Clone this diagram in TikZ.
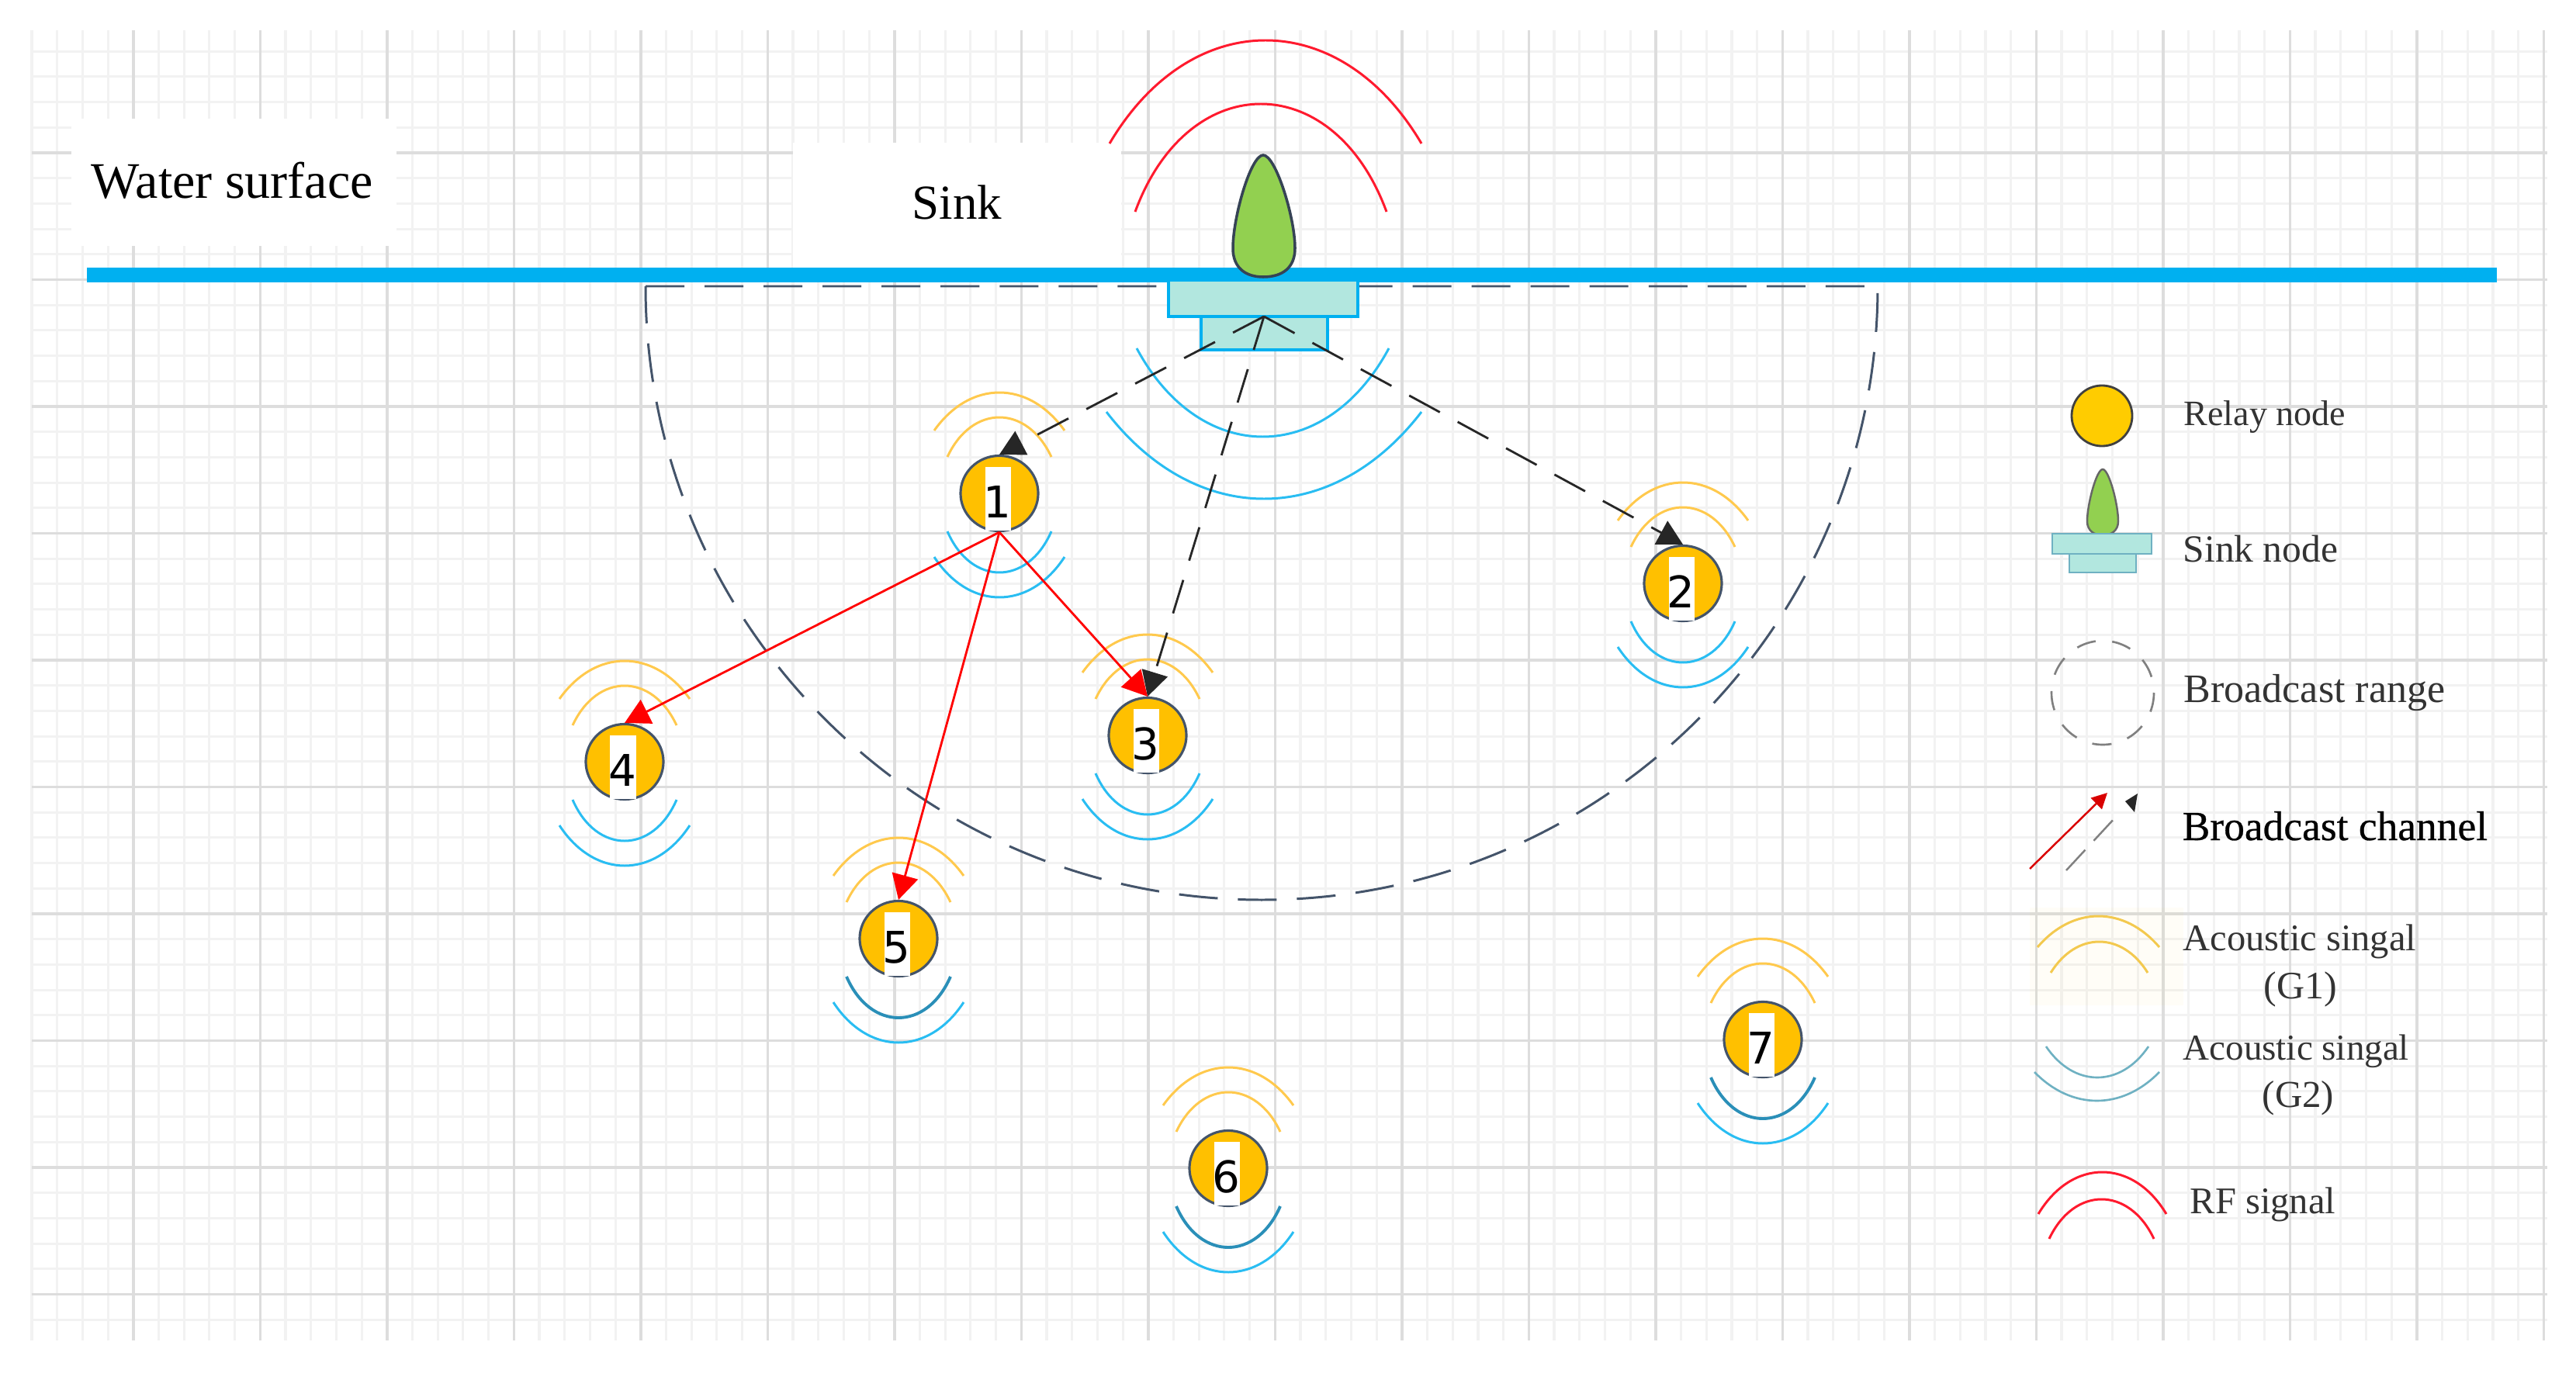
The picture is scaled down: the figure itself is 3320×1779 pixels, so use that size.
\documentclass[tikz,border=0pt]{standalone}
\usepackage{fontspec}
\setmainfont{Liberation Serif}
\newfontfamily\numfont{DejaVu Sans}
\usetikzlibrary{arrows.meta,shapes.geometric}
\definecolor{gmin}{HTML}{F2F2F2}
\definecolor{gmaj}{HTML}{DDDDDD}
\definecolor{water}{HTML}{00B0F0}
\definecolor{sinkfill}{HTML}{B2E7DF}
\definecolor{dropfill}{HTML}{92D050}
\definecolor{navy}{HTML}{44546A}
\definecolor{relay}{HTML}{FFC000}
\definecolor{lrelayc}{HTML}{FFCC00}
\definecolor{wy}{HTML}{FFC94D}
\definecolor{wb}{HTML}{29BDF2}
\definecolor{wd}{HTML}{2A8FB8}
\definecolor{rf}{HTML}{FF1A2E}
\definecolor{lgy}{HTML}{F3C94F}
\definecolor{lgb}{HTML}{6FB1C2}
\newcommand{\wave}[5]{% style, x1, x2, y, apex y
  \pgfmathsetmacro{\wh}{abs(#3-#2)/2}
  \pgfmathsetmacro{\ws}{abs(#5-#4)}
  \pgfmathsetmacro{\wsgn}{(#5<#4)?1:-1}
  \pgfmathsetmacro{\wR}{(\wh/\ws*\wh+\ws)/2}
  \pgfmathsetmacro{\wt}{2*atan(\ws/\wh)}
  \pgfmathsetmacro{\wk}{4/3*tan(\wt/2)*\wR}
  \pgfmathsetmacro{\wdx}{0.5*(\wk*cos(\wt)+2*\wh/3)}
  \pgfmathsetmacro{\wdy}{4/3*\ws*\wsgn}
  \draw[#1] (#2,#4) .. controls ({#2+\wdx},{#4-\wdy}) and ({#3-\wdx},{#4-\wdy}) .. (#3,#4);}
\newcommand{\relaywaves}[3]{% x, y, inner-bottom style
  \pgfmathsetmacro{\ax}{#1-84}\pgfmathsetmacro{\bx}{#1+84}
  \pgfmathsetmacro{\cx}{#1-67}\pgfmathsetmacro{\ex}{#1+67}
  \pgfmathsetmacro{\ya}{#2-81}\pgfmathsetmacro{\yb}{#2-130}
  \pgfmathsetmacro{\yc}{#2-47}\pgfmathsetmacro{\yd}{#2-98}
  \pgfmathsetmacro{\ye}{#2+49}\pgfmathsetmacro{\yf}{#2+102}
  \pgfmathsetmacro{\yg}{#2+82}\pgfmathsetmacro{\yh}{#2+134}
  \edef\tmpw{%
   \noexpand\wave{wavey}{\ax}{\bx}{\ya}{\yb}%
   \noexpand\wave{wavey}{\cx}{\ex}{\yc}{\yd}%
   \noexpand\wave{#3}{\cx}{\ex}{\ye}{\yf}%
   \noexpand\wave{waveb}{\ax}{\bx}{\yg}{\yh}}%
  \tmpw}
\newcommand{\relaynode}[3]{% digit, x, y
  \node[relaynd] (n#1) at (#2,#3) {};
  \node[stripnd] (s#1) at (#2-2,#3+7) {};
  \node[digitnd] (d#1) at (#2-3,#3+11) {#1};}
\newcommand{\txt}[5]{\pgfmathsetmacro{\fsz}{#3*0.2845}%
  \node[lbl,font=\fontsize{\fsz}{\fsz}\selectfont] (#5) at (#1,#2) {#4};}
\tikzset{
  x=0.01cm,y=-0.01cm,
  wavey/.style={draw=wy,line width=0.85pt},
  waveb/.style={draw=wb,line width=0.85pt},
  waved/.style={draw=wd,line width=1.1pt},
  rfw/.style={draw=rf,line width=0.85pt},
  relaynd/.style={draw=navy,fill=relay,ellipse,minimum width=1cm,minimum height=0.97cm,inner sep=0pt,line width=0.9pt},
  stripnd/.style={fill=white,inner sep=0pt,minimum width=0.33cm,minimum height=0.82cm},
  digitnd/.style={inner sep=0pt,font=\numfont\fontsize{16}{18}\selectfont},
  lbl/.style={anchor=base west,inner sep=0pt,text=black!80},
  sinkbox/.style={draw=water,fill=sinkfill,line width=1.1pt,inner sep=0pt},
  drop/.style={draw=navy!80!black,fill=dropfill,line width=1pt},
  rarrow/.style={draw=red,line width=0.8pt,-{Triangle[length=0.32cm,width=0.34cm]}},
  barrow/.style={draw=black!85,line width=0.8pt,dash pattern=on 0.45cm off 0.26cm,-{Triangle[length=0.32cm,width=0.34cm]}},
  rangeline/.style={draw=navy,line width=0.85pt,dash pattern=on 0.5cm off 0.26cm},
}
\begin{document}
\begin{tikzpicture}
\useasboundingbox (0,0) rectangle (3320,1779);
% grid
\foreach \k in {0,...,99}{
  \pgfmathsetmacro{\gx}{41+32.7*\k}
  \draw[gmin,line width=0.9pt] (\gx,39) -- (\gx,1728);}
\foreach \k in {1,...,51}{
  \pgfmathsetmacro{\gy}{33.5+32.7*\k}
  \draw[gmin,line width=0.9pt] (41,\gy) -- (3283,\gy);}
\foreach \k in {0,...,19}{
  \pgfmathsetmacro{\gx}{172+163.5*\k}
  \draw[gmaj,line width=0.9pt] (\gx,39) -- (\gx,1728);}
\foreach \k in {0,...,9}{
  \pgfmathsetmacro{\gy}{197+163.5*\k}
  \draw[gmaj,line width=0.9pt] (41,\gy) -- (3283,\gy);}
% white label patches
\fill[white] (92,153) rectangle (511,317);
\fill[white] (1022,184) rectangle (1445,345);
% water
\fill[water] (112,345) rectangle (3218,364);
% range
\draw[rangeline] (832,369) -- (2420,369) arc[start angle=0,end angle=180,x radius=794,y radius=791];
% RF
\wave{rfw}{1430}{1832}{185}{52}
\wave{rfw}{1463}{1787}{273}{134}
% sink
\draw[drop] (1628,200) .. controls (1612,200) and (1589,280) .. (1589,320) .. controls (1589,345) and (1605,357) .. (1628,357) .. controls (1653,357) and (1669,345) .. (1669,320) .. controls (1669,280) and (1644,200) .. (1628,200) -- cycle;
\node[sinkbox,minimum width=1.63cm,minimum height=0.43cm] (sinkb) at (1629.5,429.5) {};
\node[sinkbox,minimum width=2.44cm,minimum height=0.47cm] (sinkt) at (1628,384.5) {};
\coordinate (src) at (1629,408);
% sink waves
\wave{waveb}{1465}{1790}{449}{563}
\wave{waveb}{1426}{1832}{531}{643}
% relay nodes waves
\relaywaves{1288}{636}{waveb}
\relaywaves{2169}{752}{waveb}
\relaywaves{1479}{948}{waveb}
\relaywaves{805}{982}{waveb}
\relaywaves{1158}{1210}{waved}
\relaywaves{1583}{1506}{waved}
\relaywaves{2272}{1340}{waved}
% relay nodes
\relaynode{1}{1288}{636}
\relaynode{2}{2169}{752}
\relaynode{3}{1479}{948}
\relaynode{4}{805}{982}
\relaynode{5}{1158}{1210}
\relaynode{6}{1583}{1506}
\relaynode{7}{2272}{1340}
% connectors
\draw[barrow] (src) -- (n1.north);
\draw[barrow] (src) -- (n2.north);
\draw[barrow] (src) -- (n3.north);
\draw[rarrow] (n1.south) -- (n3.north);
\draw[rarrow] (n1.south) -- (n4.north);
\draw[rarrow] (n1.south) -- (n5.north);
% text
\pgfmathsetmacro{\fsz}{66*0.2845}
\node[lbl,text=black,font=\fontsize{\fsz}{\fsz}\selectfont] (water) at (117,255) {Water surface};
\pgfmathsetmacro{\fsz}{63*0.2845}
\node[lbl,text=black,font=\fontsize{\fsz}{\fsz}\selectfont] (sink) at (1175,282) {Sink};
% legend
\node[draw=black!75,fill=lrelayc,circle,minimum size=0.78cm,inner sep=0pt,line width=0.8pt] (lrelay) at (2709,536) {};
\draw[drop,draw=black!60,fill=dropfill,line width=0.7pt] (2710,605) .. controls (2702,605) and (2690,650) .. (2690,672) .. controls (2690,684) and (2699,690) .. (2710,690) .. controls (2721,690) and (2730,684) .. (2730,672) .. controls (2730,650) and (2718,605) .. (2710,605) -- cycle;
\draw[draw=lgb,fill=sinkfill,line width=0.8pt] (2667,714) rectangle (2753,738);
\draw[draw=lgb,fill=sinkfill,line width=0.8pt] (2645,688) rectangle (2773,714);
\draw[draw=black!50,line width=0.75pt,dash pattern=on 0.25cm off 0.215cm] (2710,893) ellipse [x radius=66,y radius=67];
\coordinate (rs) at (2616,1120); \coordinate (re) at (2716,1022);
\coordinate (bs) at (2663,1122); \coordinate (bm) at (2727,1053); \coordinate (be) at (2755,1023);
\draw[draw=red!85!black,line width=0.7pt,-{Triangle[length=0.2cm,width=0.2cm]}] (rs) -- (re);
\draw[draw=black!50,line width=0.7pt,dash pattern=on 0.36cm off 0.16cm] (bs) -- (bm);
\fill[black!85] (be) -- (2751,1047) -- (2739,1033) -- cycle;
\fill[yellow!60!orange,opacity=0.03] (2616,1170) rectangle (2814,1296);
\wave{draw=lgy,line width=0.85pt}{2626}{2783}{1221}{1181}
\wave{draw=lgy,line width=0.85pt}{2643}{2768}{1254}{1214}
\wave{draw=lgb,line width=0.75pt}{2637}{2769}{1349}{1389}
\wave{draw=lgb,line width=0.75pt}{2622}{2783}{1382}{1419}
\wave{rfw}{2627}{2792}{1565}{1511}
\wave{rfw}{2641}{2776}{1597}{1546}
\txt{2814}{548}{46}{Relay node}{lrel}
\txt{2813}{724}{49.5}{Sink node}{lsink}
\txt{2814}{905}{52}{Broadcast range}{lrange}
\node[lbl,text=black,font=\fontsize{15.2}{17}\selectfont\addfontfeatures{FakeBold=0.5}] (bchan) at (2812,1083) {Broadcast channel};
\txt{2813}{1225}{48.5}{Acoustic singal}{ag1}
\txt{2917}{1287}{50}{(G1)}{g1}
\txt{2813}{1366}{47}{Acoustic singal}{ag2}
\txt{2915}{1427}{49}{(G2)}{g2}
\txt{2822}{1564}{48.5}{RF signal}{lrf}
\end{tikzpicture}
\end{document}
